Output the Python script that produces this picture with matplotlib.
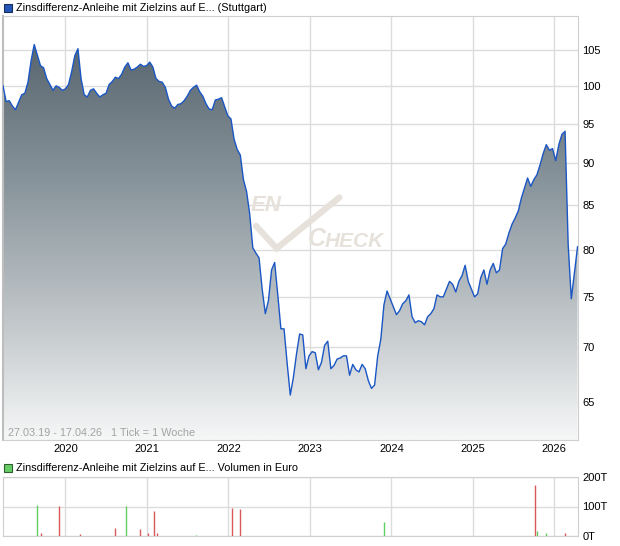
import matplotlib
matplotlib.use('Agg')
import matplotlib.pyplot as plt
import matplotlib.dates as mdates
from matplotlib.patches import Rectangle
from matplotlib.colors import LinearSegmentedColormap
import numpy as np
import pandas as pd

plt.rcParams['font.family'] = ['Liberation Sans', 'DejaVu Sans']

prices = [
    100.0, 97.9, 98.0, 97.3, 96.8, 97.8, 98.8, 99.0, 100.5, 103.5,
    105.8, 104.3, 102.8, 102.5, 101.0, 100.2, 99.4, 100.0, 99.8, 99.4,
    99.6, 100.2, 102.0, 104.2, 105.2, 101.0, 98.8, 98.5, 99.4, 99.6,
    99.0, 98.5, 98.8, 99.0, 100.2, 100.6, 101.2, 101.0, 101.6, 102.6,
    103.2, 102.2, 102.3, 102.6, 103.0, 102.7, 102.8, 103.3, 102.6, 101.0,
    100.6, 100.5, 99.8, 98.2, 97.3, 97.0, 97.5, 97.6, 98.0, 98.6,
    99.4, 99.8, 100.1, 99.2, 98.6, 97.6, 96.9, 96.8, 98.1, 98.2,
    98.4, 97.2, 96.0, 95.6, 93.0, 91.7, 91.0, 88.0, 86.6, 84.0,
    80.2, 79.6, 79.1, 75.8, 73.3, 74.6, 77.8, 78.6, 75.2, 71.8,
    71.8, 68.5, 65.6, 67.2, 69.4, 71.3, 71.2, 68.0, 69.2, 69.6,
    69.5, 67.9, 68.6, 70.2, 70.6, 68.0, 68.3, 68.9, 69.0, 69.2,
    69.2, 67.4, 68.4, 67.9, 67.7, 68.4, 68.0, 66.9, 66.2, 66.5,
    69.2, 70.8, 74.2, 75.6, 74.8, 74.0, 73.2, 73.6, 74.3, 74.6,
    75.2, 73.0, 72.4, 72.6, 72.5, 72.2, 73.0, 73.3, 73.8, 75.2,
    75.0, 75.0, 75.8, 76.6, 76.3, 75.5, 76.6, 77.2, 78.3, 76.6,
    75.8, 75.0, 75.3, 77.0, 77.8, 76.3, 77.8, 78.5, 77.5, 77.8,
    80.1, 80.6, 81.8, 82.8, 83.5, 84.3, 85.8, 87.0, 88.2, 87.2,
    88.0, 88.6, 89.8, 91.2, 92.3, 91.6, 91.8, 90.3, 92.3, 93.6,
    94.0, 80.5, 74.8, 77.5, 80.3,
]
dates = pd.date_range('2019-03-27', periods=len(prices), freq='14D')

vol_dates = pd.to_datetime([
    '2019-08-28', '2019-09-12', '2019-12-05', '2020-03-08', '2020-08-11',
    '2020-09-29', '2020-12-01', '2021-01-06', '2021-02-01', '2021-02-15',
    '2021-08-08', '2022-01-17', '2022-02-22', '2023-11-28', '2025-10-08',
    '2025-10-17', '2025-11-26', '2026-02-19',
])
vol_values = [105, 11, 102, 7, 27, 102, 25, 10, 86, 10, 4, 95, 92, 48, 174, 17, 11, 10]
vol_up = [True, False, False, False, False, True, False, False, False, False,
          True, False, False, True, False, True, True, False]

y_ticks = [65, 70, 75, 80, 85, 90, 95, 100, 105]
years = ['2020', '2021', '2022', '2023', '2024', '2025', '2026']
x_start = pd.Timestamp('2019-03-27')
x_end = pd.Timestamp('2026-04-17')

fig = plt.figure(figsize=(6.2, 5.46), dpi=100)
ax = fig.add_axes([3 / 620, 1 - 440 / 546, 575 / 620, 424 / 546])
axv = fig.add_axes([3 / 620, 1 - 536 / 546, 575 / 620, 59 / 546])

grid_c = '#dcdcdc'
spine_c = '#cfcfcf'
year_pos = [pd.Timestamp(y + '-01-01') for y in years]

# --- Kurs ---
ax.set_yscale('log')
ax.set_xlim(x_start, x_end)
ax.set_ylim(61.7, 110)

cmap = LinearSegmentedColormap.from_list(
    'g', [(0.0, '#f6f7f7'), (0.26, '#c5cacd'), (0.59, '#8b979e'), (1.0, '#4e5c66')])
grad = np.linspace(0, 1, 256).reshape(-1, 1)
poly = ax.fill_between(dates, prices, 40, color='none', lw=0)
img = ax.imshow(grad, aspect='auto', cmap=cmap, origin='lower',
                extent=[0, 1, 0, 1], transform=ax.transAxes, zorder=2)
img.set_clip_path(poly.get_paths()[0], transform=ax.transData)
ax.plot(dates, prices, color='#1a56c4', lw=1.0, zorder=3)

# Wasserzeichen
wm = '#e6e1da'
ax.text(0.431, 0.553, 'EN', transform=ax.transAxes, fontsize=16, style='italic',
        weight='bold', color=wm, va='center', ha='left', zorder=1)
ax.plot([0.440, 0.476, 0.585], [0.505, 0.452, 0.572], transform=ax.transAxes,
        color=wm, lw=4.5, solid_capstyle='round', solid_joinstyle='miter', zorder=1)
ax.text(0.530, 0.475, 'C', transform=ax.transAxes, fontsize=18, style='italic',
        weight='bold', color=wm, va='center', ha='left', zorder=1)
ax.text(0.560, 0.469, 'HECK', transform=ax.transAxes, fontsize=15, style='italic',
        weight='bold', color=wm, va='center', ha='left', zorder=1)

ax.set_yticks(y_ticks)
ax.set_yticklabels([str(v) for v in y_ticks])
ax.yaxis.set_minor_locator(matplotlib.ticker.NullLocator())
ax.yaxis.tick_right()
ax.set_xticks(year_pos)
ax.set_xticklabels(years)
ax.tick_params(axis='both', length=0, labelsize=8, colors='#000000')
ax.tick_params(axis='y', pad=3)
ax.tick_params(axis='x', pad=3)
ax.grid(True, color=grid_c, lw=1, zorder=0)
ax.set_axisbelow(True)
for s in ax.spines.values():
    s.set_color(spine_c)
ax.spines['left'].set_color('#bdbdbd')
ax.spines['left'].set_linewidth(1.5)

ax.text(0.009, 0.004, '27.03.19 - 17.04.26   1 Tick = 1 Woche', transform=ax.transAxes,
        fontsize=7.8, color='#a3a3a3', va='bottom', ha='left', zorder=4)

# --- Volumen ---
axv.set_xlim(x_start, x_end)
axv.set_ylim(0, 200)
colors = ['#5fcf5f' if up else '#d9595a' for up in vol_up]
axv.vlines(vol_dates, 0, vol_values, colors=colors, lw=1, zorder=3)
axv.set_yticks([0, 100, 200])
axv.set_yticklabels(['0T', '100T', '200T'])
axv.yaxis.tick_right()
axv.set_xticks(year_pos)
axv.set_xticklabels([])
axv.tick_params(axis='both', length=0, labelsize=8)
axv.tick_params(axis='y', pad=3)
axv.grid(True, color=grid_c, lw=1, zorder=0)
axv.set_axisbelow(True)
for s in axv.spines.values():
    s.set_color(spine_c)

# Legenden oben
fig.add_artist(Rectangle((4 / 620, 1 - 12 / 546), 8 / 620, 8 / 546, transform=fig.transFigure,
                         facecolor='#2457b8', edgecolor='#1b2f5a', lw=0.8))
fig.text(16 / 620, 1 - 8 / 546, 'Zinsdifferenz-Anleihe mit Zielzins auf E... (Stuttgart)',
         fontsize=7.8, va='center', ha='left')
fig.add_artist(Rectangle((4 / 620, 1 - 472 / 546), 8 / 620, 8 / 546, transform=fig.transFigure,
                         facecolor='#66cc66', edgecolor='#2f5f2f', lw=0.8))
fig.text(16 / 620, 1 - 468 / 546, 'Zinsdifferenz-Anleihe mit Zielzins auf E... Volumen in Euro',
         fontsize=7.8, va='center', ha='left')

fig.savefig('out.png', dpi=100)
